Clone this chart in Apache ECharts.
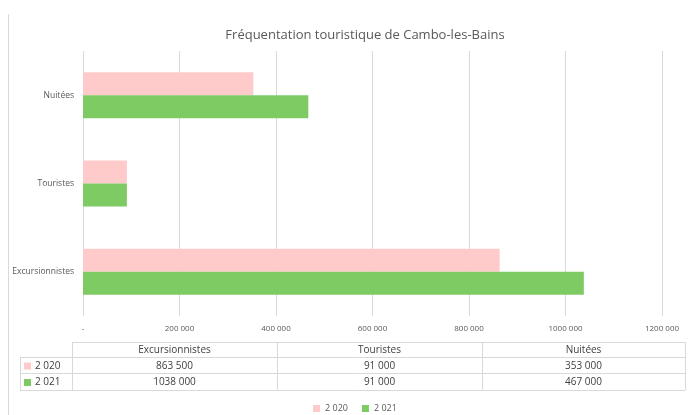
<!DOCTYPE html>
<html>
<head>
<meta charset="utf-8">
<script src="https://cdn.jsdelivr.net/npm/echarts@6/dist/echarts.min.js"></script>
<style>
  html, body { margin: 0; padding: 0; background: #fff; }
  #chart { width: 693px; height: 415px; }
</style>
</head>
<body>
<div id="chart"></div>
<script>
  "use strict";
  var categories = ['Excursionnistes', 'Touristes', 'Nuitées'];
  var seriesNames = ['2 020', '2 021'];
  var values2020 = [863500, 91000, 353000];
  var values2021 = [1038000, 91000, 467000];
  var tableCells2020 = ['863 500', '91 000', '353 000'];
  var tableCells2021 = ['1038 000', '91 000', '467 000'];
  var tickLabels = {0: '-', 200000: '200 000', 400000: '400 000', 600000: '600 000',
    800000: '800 000', 1000000: '1000 000', 1200000: '1200 000'};

  var colors = ['#ffcaca', '#7ecb63'];
  var font = '"Open Sans", "Noto Sans", sans-serif';
  var gray = '#595959';

  // data table under the axis
  var tbl = {left: 20, colX: [72, 277, 482, 685], rowY: [342, 357, 373, 390]};
  var lineCol = '#d9d9d9';
  var graphics = [];
  function hline(x1, x2, y) {
    graphics.push({type: 'line', shape: {x1: x1, y1: y, x2: x2, y2: y}, style: {stroke: lineCol, lineWidth: 1}});
  }
  function vline(x, y1, y2) {
    graphics.push({type: 'line', shape: {x1: x, y1: y1, x2: x, y2: y2}, style: {stroke: lineCol, lineWidth: 1}});
  }
  function cellText(txt, x, y, align) {
    graphics.push({type: 'text', x: x, y: y, style: {text: txt, font: '10px ' + font, fill: '#404040',
      align: align || 'center', verticalAlign: 'middle'}});
  }
  // frame line at left of chart area
  vline(8.5, 14, 415);
  hline(tbl.colX[0], tbl.colX[3], tbl.rowY[0] + 0.5);
  for (var r = 1; r < 4; r++) hline(tbl.left, tbl.colX[3], tbl.rowY[r] + 0.5);
  vline(tbl.left + 0.5, tbl.rowY[1], tbl.rowY[3]);
  tbl.colX.forEach(function (x) { vline(x + 0.5, tbl.rowY[0], tbl.rowY[3]); });
  categories.forEach(function (c, i) {
    var cx = (tbl.colX[i] + tbl.colX[i + 1]) / 2;
    cellText(c, cx, (tbl.rowY[0] + tbl.rowY[1]) / 2 + 1);
    cellText(tableCells2020[i], cx, (tbl.rowY[1] + tbl.rowY[2]) / 2 + 1);
    cellText(tableCells2021[i], cx, (tbl.rowY[2] + tbl.rowY[3]) / 2 + 1);
  });
  [tableCells2020, tableCells2021].forEach(function (row, i) {
    var y = (tbl.rowY[i + 1] + tbl.rowY[i + 2]) / 2 + 1;
    graphics.push({type: 'rect', shape: {x: 24, y: y - 3.5, width: 7, height: 7}, style: {fill: colors[i]}});
    cellText(seriesNames[i], 35, y, 'left');
  });

  var option = {
    animation: false,
    title: {
      text: 'Fréquentation touristique de Cambo-les-Bains',
      left: 360, top: 24, textAlign: 'center',
      textStyle: {fontFamily: font, fontSize: 13, fontWeight: 'normal', color: gray}
    },
    legend: {
      top: 404, left: 313, padding: 0,
      itemWidth: 7, itemHeight: 7, itemGap: 14,
      icon: 'rect',
      textStyle: {fontFamily: font, fontSize: 9, color: gray},
      data: seriesNames
    },
    grid: {left: 83, right: 31, top: 51, bottom: 99, containLabel: false},
    xAxis: {
      type: 'value', min: 0, max: 1200000, interval: 200000,
      axisLine: {show: false}, axisTick: {show: false},
      splitLine: {lineStyle: {color: lineCol}},
      axisLabel: {
        fontFamily: font, fontSize: 8, color: gray, margin: 9,
        formatter: function (v) { return tickLabels[v]; }
      }
    },
    yAxis: {
      type: 'category', data: categories,
      axisLine: {show: false}, axisTick: {show: false},
      axisLabel: {fontFamily: font, fontSize: 8.5, color: gray, margin: 9}
    },
    series: [
      {name: seriesNames[0], type: 'bar', data: values2020, itemStyle: {color: colors[0]},
        barGap: '0%', barCategoryGap: '48%'},
      {name: seriesNames[1], type: 'bar', data: values2021, itemStyle: {color: colors[1]},
        barGap: '0%', barCategoryGap: '48%'}
    ],
    graphic: graphics
  };

  var chart = echarts.init(document.getElementById('chart'));
  chart.setOption(option);
</script>
</body>
</html>
